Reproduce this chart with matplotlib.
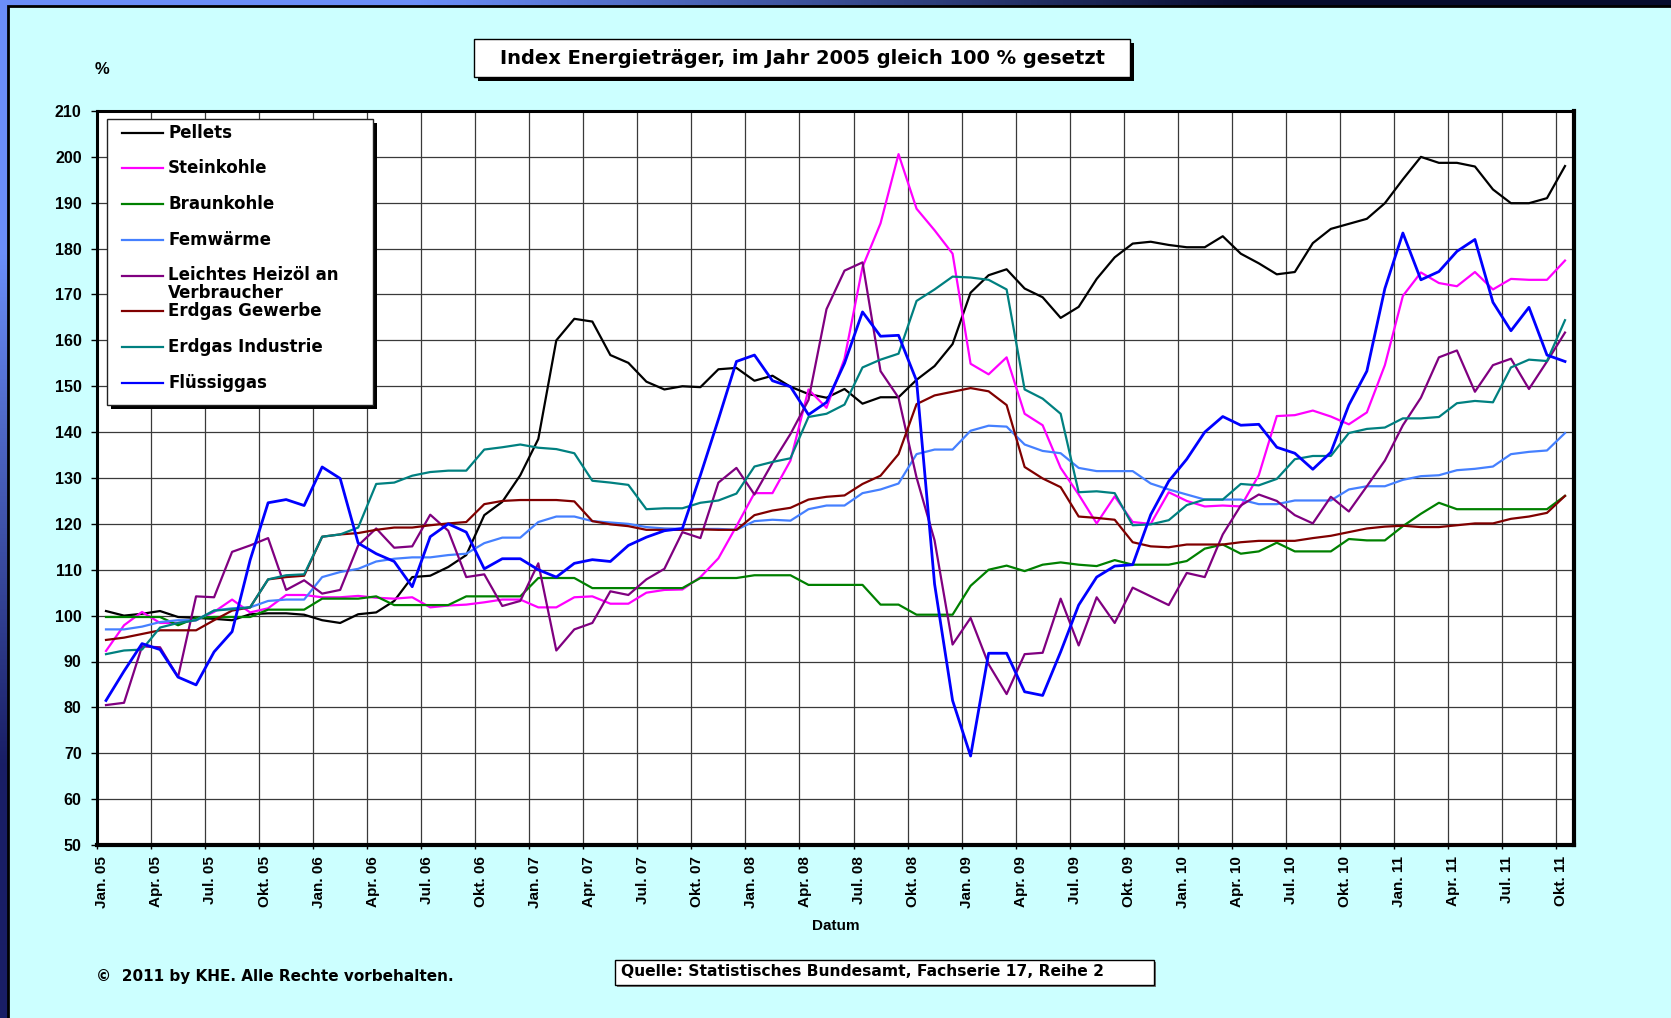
import numpy as np
import matplotlib.pyplot as plt
from matplotlib.patches import Rectangle
from matplotlib.lines import Line2D

# monthly index values, Jan 2005 .. Okt 2011 (2005 = 100)
pellets = [101, 100, 100.4, 101, 99.7, 99.5, 99.3, 99, 100.3, 100.5, 100.5, 100.2,
           99, 98.4, 100.3, 100.7, 103.2, 108.4, 108.7, 110.6, 113.2, 121.9, 124.8, 130.6,
           138.5, 160, 164.7, 164.1, 156.8, 155.1, 151, 149.3, 150, 149.8, 153.7, 154,
           151.2, 152.3, 149.9, 148.3, 147.5, 149.4, 146.2, 147.6, 147.6, 151.4, 154.4, 159.2,
           170.4, 174.2, 175.5, 171.3, 169.4, 164.9, 167.3, 173.4, 178.1, 181.1, 181.5, 180.8,
           180.3, 180.3, 182.7, 178.9, 176.8, 174.4, 174.9, 181.2, 184.3, 185.4, 186.5, 189.9,
           195.1, 200, 198.7, 198.7, 197.9, 192.9, 189.9, 189.9, 191, 198]
steinkohle = [92.3, 97.9, 100.8, 98.4, 98.4, 99, 100.8, 103.5, 100.7, 101.6, 104.5, 104.5,
              104, 104, 104.3, 103.9, 103.7, 104, 101.8, 102.2, 102.4, 102.9, 103.5, 103.5,
              101.8, 101.8, 104, 104.2, 102.6, 102.6, 105, 105.6, 105.7, 108.4, 112.5, 119.5,
              126.7, 126.7, 133.8, 149.3, 145.3, 156, 176, 185.5, 200.6, 188.7, 184, 178.9,
              154.9, 152.6, 156.3, 144, 141.5, 132.2, 126.4, 120.1, 126, 120.4, 120, 126.9,
              125, 123.8, 124, 123.8, 130.6, 143.5, 143.7, 144.7, 143.4, 141.7, 144.3, 154.6,
              169.7, 174.8, 172.5, 171.8, 174.9, 171.1, 173.4, 173.2, 173.2, 177.4]
braunkohle = [99.7, 99.7, 99.7, 99.7, 97.9, 99.5, 99.7, 99.7, 99.7, 101.3, 101.3, 101.3,
              103.7, 103.7, 103.7, 104.2, 102.3, 102.3, 102.3, 102.3, 104.2, 104.2, 104.2, 104.2,
              108.2, 108.2, 108.2, 106, 106, 106, 106, 106, 106, 108.2, 108.2, 108.2,
              108.8, 108.8, 108.8, 106.7, 106.7, 106.7, 106.7, 102.4, 102.4, 100.2, 100.2, 100.2,
              106.5, 110, 110.9, 109.7, 111.1, 111.6, 111.1, 110.8, 112.1, 111.1, 111.1, 111.1,
              111.9, 114.6, 115.5, 113.5, 114, 115.9, 114, 114, 114, 116.7, 116.4, 116.4,
              119.5, 122.2, 124.6, 123.2, 123.2, 123.2, 123.2, 123.2, 123.2, 126.1]
fernwaerme = [97, 97, 97.6, 98.6, 99, 99, 101.1, 101.6, 101.8, 103.2, 103.5, 103.5,
              108.4, 109.5, 110.2, 111.8, 112.4, 112.7, 112.7, 113.2, 113.5, 115.8, 117, 117,
              120.4, 121.6, 121.6, 120.6, 120.3, 120, 119.3, 119, 118.9, 118.9, 118.9, 118.7,
              120.6, 120.9, 120.7, 123.2, 124, 124, 126.7, 127.5, 128.8, 135.2, 136.2, 136.2,
              140.3, 141.4, 141.2, 137.3, 135.9, 135.4, 132.2, 131.5, 131.5, 131.5, 128.8, 127.5,
              126.4, 125.3, 125.3, 125.3, 124.3, 124.3, 125.1, 125.1, 125.1, 127.5, 128.2, 128.2,
              129.6, 130.4, 130.6, 131.7, 132, 132.5, 135.2, 135.7, 136, 139.8]
heizoel = [80.5, 81, 93.3, 93.1, 86.6, 104.2, 104, 113.9, 115.3, 116.9, 105.6, 107.7,
           104.8, 105.6, 115.3, 119, 114.8, 115.1, 122, 118.5, 108.4, 109, 102.1, 103.2,
           111.4, 92.4, 97, 98.4, 105.3, 104.5, 107.9, 110.2, 118.2, 116.9, 129, 132.2,
           126.4, 133.3, 139.6, 147, 166.8, 175.2, 177, 153.3, 147.5, 130.1, 116.4, 93.7,
           99.5, 89.4, 82.9, 91.6, 91.9, 103.7, 93.5, 104, 98.4, 106.1, 104.2, 102.3,
           109.3, 108.4, 117.7, 124, 126.4, 125, 121.9, 120.1, 125.9, 122.7, 128.2, 133.8,
           141.5, 147.5, 156.3, 157.8, 148.8, 154.6, 156, 149.4, 155.4, 161.7]
erdgas_gewerbe = [94.7, 95.2, 96, 96.8, 96.8, 96.8, 99, 101.1, 101.8, 107.9, 108.4, 108.7,
                  117.2, 117.7, 118, 118.7, 119.2, 119.2, 119.7, 120.1, 120.4, 124.3, 125, 125.2,
                  125.2, 125.2, 124.9, 120.6, 119.9, 119.5, 118.7, 118.7, 118.7, 118.8, 118.7, 118.7,
                  121.9, 122.9, 123.5, 125.3, 125.9, 126.2, 128.7, 130.5, 135.2, 146.1, 148, 148.8,
                  149.6, 148.9, 145.9, 132.4, 129.9, 128, 121.6, 121.3, 120.9, 116, 115.1, 114.9,
                  115.5, 115.5, 115.5, 116, 116.3, 116.3, 116.3, 116.9, 117.4, 118.2, 119, 119.4,
                  119.6, 119.3, 119.3, 119.7, 120.1, 120.1, 121.1, 121.6, 122.4, 126.1]
erdgas_industrie = [91.6, 92.4, 92.6, 97.4, 98.4, 99, 101.1, 101.4, 101.8, 107.9, 108.8, 109,
                    117.2, 117.7, 119.2, 128.7, 129, 130.5, 131.3, 131.6, 131.6, 136.2, 136.7, 137.3,
                    136.6, 136.3, 135.4, 129.4, 129, 128.5, 123.2, 123.4, 123.4, 124.6, 125.1, 126.6,
                    132.5, 133.5, 134.3, 143.3, 144, 146, 154.1, 155.8, 157.1, 168.6, 171.1, 173.9,
                    173.7, 173.2, 171.1, 149.3, 147.3, 144, 126.9, 127.1, 126.7, 119.7, 119.9, 120.8,
                    124.1, 125.3, 125.3, 128.7, 128.4, 129.8, 134.1, 134.8, 134.8, 139.8, 140.7, 141,
                    143, 143, 143.3, 146.3, 146.8, 146.5, 154.1, 155.8, 155.5, 164.4]
fluessiggas = [81.5, 87.9, 93.9, 92.6, 86.6, 84.9, 92.1, 96.5, 112.1, 124.6, 125.3, 124,
               132.4, 129.9, 115.8, 113.5, 111.8, 106.3, 117.2, 120, 118.2, 110.2, 112.4, 112.4,
               110, 108.4, 111.4, 112.2, 111.8, 115.3, 117.1, 118.5, 119, 130.6, 142.8, 155.4,
               156.8, 151.2, 149.9, 143.8, 146.5, 155, 166.2, 160.9, 161.1, 151.2, 106.9, 81.5,
               69.4, 91.8, 91.8, 83.4, 82.6, 92.1, 102.3, 108.4, 110.8, 111.1, 122, 129.3,
               134.1, 140, 143.4, 141.5, 141.7, 136.7, 135.4, 131.9, 135.6, 145.9, 153.3, 171.3,
               183.4, 173.2, 175, 179.4, 182, 168.3, 162.1, 167.2, 156.8, 155.4]

series_names = ['Pellets', 'Steinkohle', 'Braunkohle', 'Femwärme',
                'Leichtes Heizöl an Verbraucher', 'Erdgas Gewerbe', 'Erdgas Industrie', 'Flüssiggas']
series_values = [pellets, steinkohle, braunkohle, fernwaerme,
                 heizoel, erdgas_gewerbe, erdgas_industrie, fluessiggas]
series_colors = ['#000000', '#FF00FF', '#008000', '#4580FF',
                 '#800080', '#800000', '#008080', '#0000FF']

quarter_names = ['Jan.', 'Apr.', 'Jul.', 'Okt.']
years = ['05', '06', '07', '08', '09', '10', '11']
tick_labels = [f'{q} {y}' for y in years for q in quarter_names][:28]

W, H = 1671, 1018
BOLD = {'family': 'Liberation Sans', 'weight': 'bold'}
WIDE = {'family': 'DejaVu Sans', 'weight': 'bold'}

fig = plt.figure(figsize=(W / 100, H / 100), dpi=100)


def fx(px):
    return px / W


def fy(py):
    return 1 - py / H


# slide background: blue gradient frame + cyan panel
bg = fig.add_axes([0, 0, 1, 1], zorder=-10)
grad = np.array([[[0.42, 0.56, 0.98], [0.03, 0.05, 0.18]],
                 [[0.10, 0.12, 0.40], [0.03, 0.04, 0.15]]])
bg.imshow(grad, extent=[0, 1, 0, 1], aspect='auto', interpolation='bilinear')
bg.set_xlim(0, 1)
bg.set_ylim(0, 1)
bg.set_axis_off()
bg.add_patch(Rectangle((fx(8), -0.01), 1.02 - fx(8), fy(6) + 0.01,
                       facecolor='#CCFFFF', edgecolor='black', lw=2))

# title box with shadow
bg.add_patch(Rectangle((fx(478), fy(81)), fx(656), 38 / H, facecolor='black', lw=0))
bg.add_patch(Rectangle((fx(474), fy(77)), fx(656), 38 / H,
                       facecolor='white', edgecolor='black', lw=1))
bg.text(fx(802), fy(58), 'Index Energieträger, im Jahr 2005 gleich 100 % gesetzt',
        ha='center', va='center', fontsize=14, **WIDE)

# source box
bg.add_patch(Rectangle((fx(617), fy(987)), fx(539), 25 / H, facecolor='#777777', lw=0))
bg.add_patch(Rectangle((fx(615), fy(985)), fx(539), 25 / H,
                       facecolor='white', edgecolor='black', lw=1))
bg.text(fx(621), fy(972), 'Quelle: Statistisches Bundesamt, Fachserie 17, Reihe 2',
        ha='left', va='center', fontsize=11.2, **WIDE)
bg.text(fx(96), fy(977), '©  2011 by KHE. Alle Rechte vorbehalten.',
        ha='left', va='center', fontsize=11, **WIDE)
bg.text(fx(102), fy(70), '%', ha='center', va='center', fontsize=12, **BOLD)

# main plot
L, R, T, B = 97, 1574, 111, 845
ax = fig.add_axes([fx(L), fy(B), fx(R) - fx(L), fy(T) - fy(B)])
ax.set_facecolor('white')
x = np.arange(len(pellets))
for vals, col in zip(series_values, series_colors):
    ax.plot(x, vals, color=col, lw=2.0 if col == '#0000FF' else 1.6, zorder=3)

ax.set_xlim(-0.5, len(pellets) - 0.5)
ax.set_ylim(50, 210)
ax.set_yticks(np.arange(50, 211, 10))
# major ticks sit on the quarter boundaries (grid), labels a bit to the right via minor ticks
ax.set_xticks(np.arange(0, len(pellets), 3) - 0.5)
ax.set_xticklabels([])
ax.set_xticks(np.arange(0, len(pellets), 3) - 0.2, minor=True)
ax.set_xticklabels(tick_labels, minor=True, rotation=90, fontsize=11, **BOLD)
for lab in ax.get_yticklabels():
    lab.set_fontsize(11.5)
    lab.set_fontfamily('Liberation Sans')
    lab.set_fontweight('bold')
ax.tick_params(axis='y', length=4, width=1, pad=7)
ax.tick_params(axis='x', which='major', length=3, width=1)
ax.tick_params(axis='x', which='minor', length=0, pad=8)
ax.grid(True, which='major', color='#3a3a3a', lw=0.9, zorder=1)
ax.set_axisbelow(True)
for side, sp in ax.spines.items():
    sp.set_color('black')
    sp.set_linewidth(3 if side in ('right', 'bottom') else 2.2)
    sp.set_zorder(4)
ax.set_xlabel('Datum', fontsize=11, labelpad=8, **BOLD)


def axx(px):
    return (px - L) / (R - L)


def axy(py):
    return (B - py) / (B - T)


# legend drawn by hand to mimic the boxed, shadowed original
tr = ax.transAxes
ax.add_patch(Rectangle((axx(111), axy(409)), axx(377) - axx(111), axy(123) - axy(409),
                       transform=tr, facecolor='black', lw=0, zorder=6))
ax.add_patch(Rectangle((axx(107), axy(405)), axx(373) - axx(107), axy(119) - axy(405),
                       transform=tr, facecolor='white', edgecolor='#222222', lw=1, zorder=7))
row_y = [132.7 + 35.7 * k for k in range(len(series_names))]
for name, col, yy in zip(series_names, series_colors, row_y):
    ax.add_line(Line2D([axx(122), axx(163)], [axy(yy), axy(yy)], transform=tr,
                       color=col, lw=1.6, zorder=8))
    if name.startswith('Leichtes'):
        ax.text(axx(168), axy(yy), 'Leichtes Heizöl an', transform=tr, ha='left',
                va='center', fontsize=12, zorder=9, **WIDE)
        ax.text(axx(168), axy(yy + 18), 'Verbraucher', transform=tr, ha='left',
                va='center', fontsize=12, zorder=9, **WIDE)
    else:
        ax.text(axx(168), axy(yy), name, transform=tr, ha='left', va='center',
                fontsize=12, zorder=9, **WIDE)

fig.savefig('out.png', dpi=100)
